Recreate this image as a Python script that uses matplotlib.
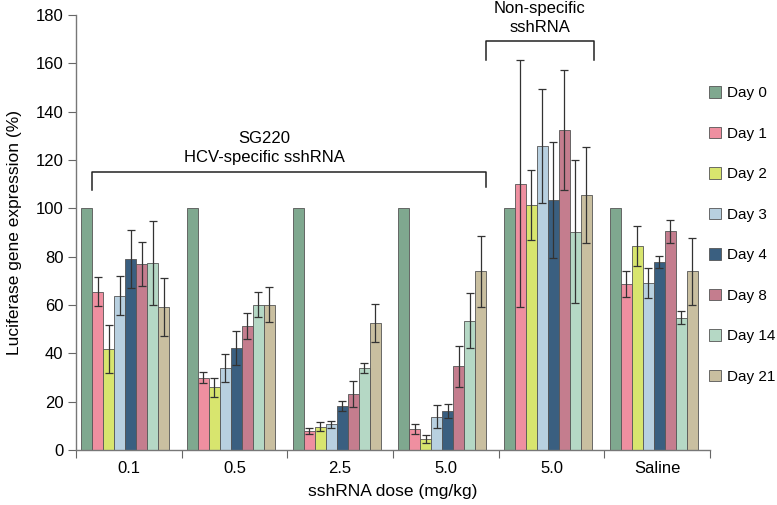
import matplotlib.pyplot as plt
import numpy as np

plt.rcParams['font.family'] = ['Liberation Sans', 'DejaVu Sans']

# doses on the x axis
groups = ["0.1", "0.5", "2.5", "5.0", "5.0", "Saline"]
days = ["Day 0", "Day 1", "Day 2", "Day 3", "Day 4", "Day 8", "Day 14", "Day 21"]
colors = ["#7fa88f", "#ef8fa0", "#d8e56e", "#b8d0e0", "#3a5f80", "#c47d8e", "#b5d8c5", "#c9bfa0"]

# expression (%) per day, one value per group
day0 = [100, 100, 100, 100, 100, 100]
day1 = [65.5, 29.8, 7.7, 8.7, 110.2, 68.8]
day2 = [41.9, 25.9, 9.7, 4.6, 101.4, 84.4]
day3 = [63.9, 33.9, 10.6, 13.8, 125.8, 69.0]
day4 = [78.9, 42.1, 18.2, 16.1, 103.3, 77.7]
day8 = [77.0, 51.2, 23.2, 34.6, 132.3, 90.5]
day14 = [77.2, 60.1, 33.9, 53.5, 90.3, 54.8]
day21 = [59.2, 60.1, 52.6, 73.9, 105.6, 73.9]

# error bars (symmetric)
err1 = [6.0, 2.3, 1.3, 2.0, 51.0, 5.4]
err2 = [10.0, 4.0, 2.0, 1.7, 14.5, 8.4]
err3 = [8.0, 5.8, 1.5, 4.7, 23.5, 6.2]
err4 = [12.0, 7.1, 1.9, 2.9, 24.0, 2.4]
err8 = [9.0, 5.4, 5.4, 8.6, 24.8, 4.8]
err14 = [17.4, 5.1, 2.2, 11.5, 29.6, 2.6]
err21 = [12.0, 7.2, 8.0, 14.8, 19.9, 14.0]

values = [day0, day1, day2, day3, day4, day8, day14, day21]
errors = [None, err1, err2, err3, err4, err8, err14, err21]

fig = plt.figure(figsize=(7.77, 5.05), dpi=100)
ax = fig.add_axes([0.0978, 0.109, 0.816, 0.8614])

w = 0.104
x0 = np.arange(len(groups)) + 0.05
for j in range(len(days)):
    xs = x0 + j * w
    ax.bar(xs, values[j], width=w, align='edge', color=colors[j],
           edgecolor='#555555', linewidth=0.6, label=days[j], zorder=2)
    if errors[j] is not None:
        ax.errorbar(xs + w / 2, values[j], yerr=errors[j], fmt='none',
                    ecolor='#333333', elinewidth=0.9, capsize=3, capthick=0.9, zorder=3)

ax.set_xlim(0, 6)
ax.set_ylim(0, 180)
ax.set_yticks(np.arange(0, 181, 20))
ax.set_xticks(np.arange(0, 7))
ax.set_xticklabels([])
ax.set_xticks(np.arange(len(groups)) + 0.5, minor=True)
ax.set_xticklabels(groups, minor=True)
ax.tick_params(axis='x', which='minor', length=0, pad=8, labelsize=12)
ax.tick_params(axis='x', which='major', length=6, color='#666666')
ax.tick_params(axis='y', length=6, color='#666666', labelsize=12, pad=3)
for s in ['top', 'right']:
    ax.spines[s].set_visible(False)
for s in ['left', 'bottom']:
    ax.spines[s].set_color('#777777')
    ax.spines[s].set_linewidth(1.0)

ax.set_ylabel("Luciferase gene expression (%)", fontsize=12.5, labelpad=10)
ax.set_xlabel("sshRNA dose (mg/kg)", fontsize=12.5, labelpad=6)

# brackets
ax.plot([0.15, 0.15, 3.88, 3.88], [107.6, 114.9, 114.9, 108.8], color='#222222', lw=1.1, clip_on=False)
ax.text(1.78, 129, "SG220", ha='center', va='center', fontsize=12)
ax.text(1.78, 121, "HCV-specific sshRNA", ha='center', va='center', fontsize=12)
ax.plot([3.88, 3.88, 4.9, 4.9], [161.4, 169.2, 169.2, 161.4], color='#222222', lw=1.1, clip_on=False)
ax.text(4.39, 182.5, "Non-specific", ha='center', va='center', fontsize=12, clip_on=False)
ax.text(4.39, 175, "sshRNA", ha='center', va='center', fontsize=12)

ax.legend(loc='upper left', bbox_to_anchor=(0.912, 0.829), bbox_transform=fig.transFigure,
          frameon=False, fontsize=11, handlelength=0.78, handleheight=0.78,
          handletextpad=0.4, labelspacing=1.73, borderaxespad=0, borderpad=0)

fig.savefig("out.png", dpi=100)
